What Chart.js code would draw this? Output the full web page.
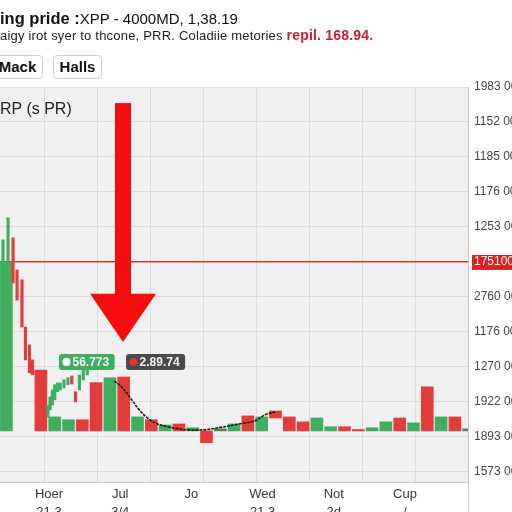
<!DOCTYPE html>
<html><head><meta charset="utf-8">
<script src="https://cdn.jsdelivr.net/npm/chart.js@4"></script>
<style>
html,body{margin:0;padding:0;width:512px;height:512px;overflow:hidden;background:#fff;font-family:"Liberation Sans",Arial,sans-serif;}
#wrap{position:relative;width:512px;height:512px;}
canvas{position:absolute;left:0;top:0;}
.t{position:absolute;white-space:nowrap;color:#111;}
#title{left:0;top:10px;font-size:15px;line-height:16px;}
#title b{font-size:16.5px;}
#sub{left:0;top:27px;font-size:13px;line-height:16px;letter-spacing:.2px;color:#222;}
#sub b{color:#c8202f;font-size:14px;}
.btn{position:absolute;top:55px;height:22px;border:1px solid #cfcfcf;border-radius:4px;background:#fff;font-weight:bold;font-size:15px;line-height:22px;text-align:center;color:#111;}
#rp{left:0;top:101px;font-size:16px;line-height:16px;color:#222;}
</style></head>
<body><div id="wrap"><canvas id="c" width="512" height="512"></canvas>
<div class="t" id="title"><b>ing pride :</b>XPP - 4000MD, 1,38.19</div>
<div class="t" id="sub">aigy irot syer to thcone, PRR. Coladiie metories <b>repil. 168.94.</b></div>
<div class="btn" style="left:-8px;width:49px;">Mack</div>
<div class="btn" style="left:53px;width:47px;">Halls</div>
<div class="t" id="rp">RP (s PR)</div>
</div>
<script>
// ---- data ----
const yTickValues = [0,100,200,300,400,500,600,700,800,900,1000,1100];
const yTickLabels = ["1573 00","1893 00","1922 00","1270 00","1176 00","2760 00","175100","1253 00","1176 00","1185 00","1152 00","1983 00"];
const markedLevel = 600;
const xTickLabels = [["Hoer","21.3"],["Jul","3/4"],["Jo","-"],["Wed","21.3"],["Not","2d"],["Cup","/"]];

const barTimes = [-0.5,2,3,4,5,6,7,8,9,10,11,12,13,14,15,16,17,18,19,20,21,22,23,24,25,26,27,28,29,30,31,32,33];
const barOpen  = [117,291,117,117,149,255,117,271,117,149,117,137,117,117,117,117,160,117,174,157,143,117,117,129,121,117,117,154,117,243,117,157,117];
const barClose = [600,117,157,149,117,117,269,117,157,117,134,117,126, 83,123,137,117,157,154,117,117,154,129,117,117,126,143,117,140,117,157,117,123];

const thinTimes = [-0.75,-0.38,-0.02,0.27,0.63,0.88,1.17,1.39,2.51,2.66,2.83,3.0,3.2,3.4,3.67,3.96,4.24,4.51,4.79,5.07,5.36];
const thinOpen  = [600,600,669,577,549,414,363,320,157,177,191,206,229,234,240,249,274,229,234,263,277];
const thinClose = [663,726,540,491,414,320,283,277,191,214,234,249,254,254,263,269,251,200,277,300,314];

const trendTimes  = [7.33,7.91,8.49,9.07,9.72,10.45,11.54,12.62,13.75,14.87,16.36,17.51,18.24,18.96];
const trendValues = [260,240,211,180,154,137,126,120,120,126,137,146,163,171];

const pillTexts = ["56.773","2.89.74"];
const pillTimes = [3.31, 8.17];
const pillLevel = 314;
const arrowSpec = {x: 7.95, top: 1054, neck: 509, tip: 371};

// ---- styles ----
const GREEN = '#3fae5f', DARKGREEN = '#4e805b', RED = '#e33c3c';
Chart.defaults.font.family = '"Liberation Sans", Arial, sans-serif';

function candleColor(o, c){
  if (c >= o) return (c - o < 8) ? DARKGREEN : GREEN;
  return RED;
}

const bgPlugin = {
  id: 'bg',
  beforeDraw(chart){
    const {ctx, chartArea: a} = chart;
    ctx.save();
    ctx.fillStyle = '#f0f0f0';
    ctx.fillRect(a.left, a.top, a.right - a.left, a.bottom - a.top);
    const y = chart.scales.y.getPixelForValue(markedLevel);
    ctx.fillStyle = '#e0201f';
    ctx.fillRect(a.right + 4, y - 7, chart.width - a.right, 15);
    ctx.restore();
  },
  afterDraw(chart){
    const {ctx, chartArea: a} = chart;
    ctx.save();
    ctx.strokeStyle = '#cfcfcf'; ctx.lineWidth = 1;
    ctx.beginPath(); ctx.moveTo(a.right + 0.5, a.bottom); ctx.lineTo(a.right + 0.5, chart.height); ctx.stroke();
    ctx.restore();
  },
  afterDatasetsDraw(chart){
    const {ctx} = chart;
    const xs = chart.scales.x, ys = chart.scales.y;
    ctx.save();
    const ax = xs.getPixelForValue(arrowSpec.x);
    const yt = ys.getPixelForValue(arrowSpec.top), yn = ys.getPixelForValue(arrowSpec.neck), yp = ys.getPixelForValue(arrowSpec.tip);
    ctx.fillStyle = '#f50d0d';
    ctx.fillRect(ax - 8, yt, 16, yn - yt + 1);
    ctx.beginPath(); ctx.moveTo(ax - 33, yn); ctx.lineTo(ax + 33, yn); ctx.lineTo(ax, yp); ctx.closePath(); ctx.fill();
    ctx.font = 'bold 12px "Liberation Sans", Arial, sans-serif';
    ctx.textBaseline = 'middle';
    const fills = [GREEN, '#4a4a4c'], dots = ['#ffffff', '#e03535'];
    pillTexts.forEach((t, i) => {
      const l = xs.getPixelForValue(pillTimes[i]);
      const cy = ys.getPixelForValue(pillLevel);
      const w = 13.5 + ctx.measureText(t).width + 5.5;
      ctx.fillStyle = fills[i];
      ctx.beginPath(); ctx.roundRect(l, cy - 8, w, 16, 3); ctx.fill();
      ctx.fillStyle = dots[i];
      ctx.beginPath(); ctx.arc(l + 7.5, cy, 4, 0, Math.PI * 2); ctx.fill();
      ctx.fillStyle = '#f4f4f4';
      ctx.fillText(t, l + 13.5, cy + 0.5);
    });
    ctx.restore();
  }
};

new Chart(document.getElementById('c'), {
  type: 'bar',
  data: {
    datasets: [
      {
        type: 'line', order: 0,
        data: trendTimes.map((t, i) => ({x: t, y: trendValues[i]})),
        borderColor: '#1b1b1b', borderWidth: 1.6, borderDash: [3, 1],
        pointRadius: 0, tension: 0.35, fill: false
      },
      {
        order: 1, grouped: false, barThickness: 2.5,
        data: thinTimes.map((t, i) => ({x: t, y: [thinOpen[i], thinClose[i]]})),
        backgroundColor: ctx => candleColor(thinOpen[ctx.dataIndex], thinClose[ctx.dataIndex])
      },
      {
        order: 2, grouped: false, barThickness: 12,
        data: barTimes.map((t, i) => ({x: t, y: [barOpen[i], barClose[i]]})),
        backgroundColor: ctx => candleColor(barOpen[ctx.dataIndex], barClose[ctx.dataIndex])
      }
    ]
  },
  options: {
    responsive: false, animation: false,
    layout: {padding: {top: 87, left: 0, right: 0, bottom: 0}},
    plugins: {legend: {display: false}, tooltip: {enabled: false}},
    scales: {
      x: {type: 'linear', display: false, min: -0.964, max: 32.95, offset: false, grid: {offset: false}},
      xg: {
        type: 'linear', position: 'bottom', min: -0.851, max: 8, offset: false,
        afterBuildTicks: s => { s.ticks = [0,1,2,3,4,5,6,7,8].map(v => ({value: v})); },
        afterFit: s => { s.height = 0; },
        ticks: {display: false}, border: {display: false},
        grid: {color: '#dcdcdc', drawTicks: false, offset: false}
      },
      xl: {
        type: 'linear', position: 'bottom', min: -0.688, max: 5.885, offset: false,
        afterBuildTicks: s => { s.ticks = xTickLabels.map((_, i) => ({value: i})); },
        afterFit: s => { s.height = 30; },
        ticks: {callback: (v, i) => xTickLabels[i], color: '#333', font: {size: 13, lineHeight: 1.4}, padding: 3, maxRotation: 0, autoSkip: false},
        grid: {display: false, drawTicks: false, offset: false},
        border: {display: true, color: '#c8c8c8'}
      },
      y: {
        type: 'linear', position: 'right', min: -29, max: 1100,
        afterBuildTicks: s => { s.ticks = yTickValues.map(v => ({value: v})); },
        afterFit: s => { s.width = 44; },
        ticks: {
          callback: (v, i) => yTickLabels[i], autoSkip: false, padding: 6,
          color: ctx => ctx.tick && ctx.tick.value === markedLevel ? '#ffffff' : '#454545',
          font: {size: 12}
        },
        grid: {
          drawTicks: false,
          color: ctx => ctx.tick && ctx.tick.value === markedLevel ? '#d63434' : '#dcdcdc',
          lineWidth: ctx => ctx.tick && ctx.tick.value === markedLevel ? 1.4 : 1
        },
        border: {display: true, color: '#c8c8c8'}
      }
    }
  },
  plugins: [bgPlugin]
});
</script>
</body></html>
